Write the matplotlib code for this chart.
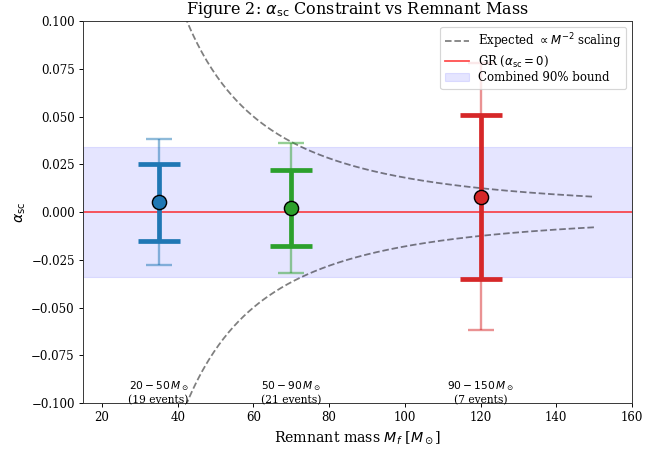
import numpy as np
import matplotlib
matplotlib.use("Agg")
import matplotlib.pyplot as plt

plt.rcParams['font.family'] = 'serif'
plt.rcParams['axes.edgecolor'] = '#333333'

# mass bins
bin_centers = [35, 70, 120]
bin_labels = ['$20-50\\,M_\\odot$\n(19 events)',
              '$50-90\\,M_\\odot$\n(21 events)',
              '$90-150\\,M_\\odot$\n(7 events)']
colors = ['#1f77b4', '#2ca02c', '#d62728']

# alpha_sc estimates and uncertainties
alpha_mean = [0.005, 0.002, 0.008]
err_68 = [0.020, 0.020, 0.043]
err_90 = [0.033, 0.034, 0.070]

combined_bound = 0.034
scaling_coef = 180.0   # alpha ~ coef / M^2
mass_curve = np.linspace(20, 150, 300)

DPI = 85
fig = plt.figure(figsize=(662 / DPI, 449 / DPI), dpi=DPI)
ax = fig.add_axes([0.1254, 0.1024, 0.8293, 0.8508])

ax.axhspan(-combined_bound, combined_bound, color='blue', alpha=0.1,
           label='Combined 90% bound', zorder=0)
ax.axhline(0, color='red', alpha=0.7, lw=1.5, label=r'GR ($\alpha_{\rm sc}=0$)')
ax.plot(mass_curve, scaling_coef / mass_curve**2, 'k--', alpha=0.5,
        lw=1.5, label=r'Expected $\propto M^{-2}$ scaling')
ax.plot(mass_curve, -scaling_coef / mass_curve**2, 'k--', alpha=0.5, lw=1.5)

for m, a, e1, e2, c in zip(bin_centers, alpha_mean, err_68, err_90, colors):
    ax.errorbar(m, a, yerr=e2, fmt='none', ecolor=c, elinewidth=2,
                capsize=11, capthick=2, alpha=0.5)
    ax.errorbar(m, a, yerr=e1, fmt='none', ecolor=c, elinewidth=4,
                capsize=18, capthick=4)
    ax.plot(m, a, 'o', color=c, markersize=12,
            markeredgecolor='black', markeredgewidth=1.2, zorder=5)

for m, lab in zip(bin_centers, bin_labels):
    ax.text(m, -0.0945, lab, ha='center', va='center', fontsize=9)

ax.set_xlim(15, 160)
ax.set_ylim(-0.1, 0.1)
ax.set_xlabel(r'Remnant mass $M_f$ [$M_\odot$]', fontsize=12)
ax.set_ylabel(r'$\alpha_{\rm sc}$', fontsize=12)
ax.yaxis.set_label_coords(-0.10, 0.5)
ax.set_title(r'Figure 2: $\alpha_{\rm sc}$ Constraint vs Remnant Mass', fontsize=13.5)

h, l = ax.get_legend_handles_labels()
ax.legend([h[2], h[1], h[0]], [l[2], l[1], l[0]], loc='upper right',
          fontsize=10, labelspacing=0.2)

fig.savefig('out.png', dpi=DPI)
